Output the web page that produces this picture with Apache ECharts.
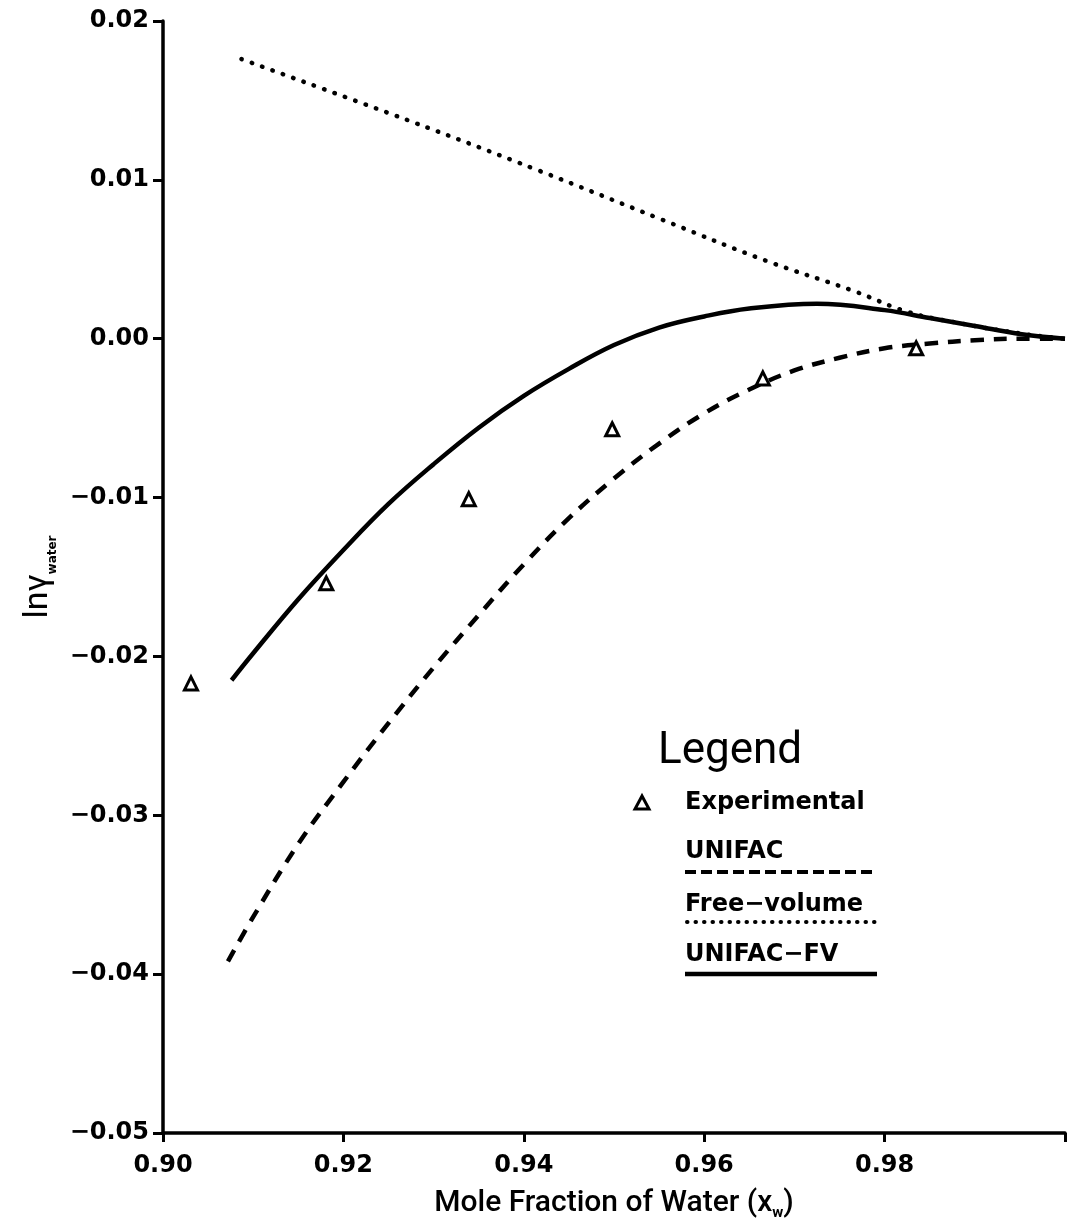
<!DOCTYPE html>
<html>
<head>
<meta charset="utf-8">
<title>ln gamma water</title>
<script src="https://cdn.jsdelivr.net/npm/echarts@6/dist/echarts.min.js"></script>
<style>
    html, body { margin: 0; padding: 0; background: #fff; }
    #chart { width: 1068px; height: 1226px; }
</style>
</head>
<body>
<div id="chart"></div>
<script>
    // values
    const expX = [0.9031, 0.9181, 0.9339, 0.9498, 0.9665, 0.9835];
    const expY = [-0.0217, -0.0154, -0.0101, -0.0057, -0.0025, -0.0006];

    const unifacX = [0.9072, 0.910, 0.915, 0.920, 0.925, 0.930, 0.935, 0.940, 0.945, 0.950, 0.955, 0.960, 0.965, 0.970, 0.975, 0.980, 0.985, 0.990, 0.995, 1.0];
    const unifacY = [-0.0392, -0.0364, -0.0318, -0.0279, -0.0242, -0.0207, -0.0174, -0.0142, -0.0113, -0.0088, -0.0066, -0.0047, -0.0032, -0.0020, -0.0012, -0.0006, -0.0003, -0.0001, 0.0, 0.0];

    const freeVolX = [0.9087, 0.9274, 0.9416, 0.9553, 0.9669, 0.9766, 0.9825, 0.9881, 0.9954, 1.0];
    const freeVolY = [0.0176, 0.0137, 0.0106, 0.0075, 0.0049, 0.0030, 0.0017, 0.0010, 0.0003, 0.0];

    const fvX = [0.9076, 0.910, 0.915, 0.920, 0.925, 0.930, 0.935, 0.940, 0.945, 0.950, 0.955, 0.960, 0.965, 0.9725, 0.980, 0.985, 0.990, 0.995, 1.0];
    const fvY = [-0.0215, -0.0198, -0.0164, -0.0133, -0.0104, -0.0079, -0.0056, -0.0036, -0.0019, -0.0004, 0.0007, 0.0014, 0.0019, 0.0022, 0.0018, 0.0013, 0.0008, 0.0003, 0.0];

    const legendNames = ['Experimental', 'UNIFAC', 'Free\u2212volume', 'UNIFAC\u2212FV'];

    function pairs(xs, ys) {
        return xs.map((x, i) => [x, ys[i]]);
    }

    const boldFont = 'DejaVu Sans';
    let myChart = echarts.init(document.getElementById('chart'));

    let option = {
        backgroundColor: '#fff',
        animation: false,
        grid: {
            left: 163,
            right: -3,
            top: 21,
            bottom: 93
        },
        xAxis: {
            type: 'value',
            min: 0.9,
            max: 1.0,
            interval: 0.02,
            splitLine: {show: false},
            axisLine: {onZero: false, lineStyle: {color: '#000', width: 3.5}},
            axisTick: {length: 9, lineStyle: {color: '#000', width: 3}},
            axisLabel: {
                color: '#000',
                fontFamily: boldFont,
                fontWeight: 'bold',
                fontSize: 24,
                margin: 21,
                formatter: (v) => v > 0.99 ? '' : v.toFixed(2)
            },
            name: 'Mole Fraction of Water (x{s|w})',
            nameLocation: 'middle',
            nameGap: 52,
            nameTextStyle: {
                color: '#000',
                fontFamily: 'Roboto',
                fontWeight: 500,
                fontSize: 30,
                lineHeight: 36,
                rich: {
                    s: {fontFamily: 'Roboto', fontWeight: 'bold', fontSize: 15, lineHeight: 36, verticalAlign: 'bottom', color: '#000'}
                }
            }
        },
        yAxis: {
            type: 'value',
            min: -0.05,
            max: 0.02,
            interval: 0.01,
            splitLine: {show: false},
            axisLine: {onZero: false, lineStyle: {color: '#000', width: 3.5}},
            axisTick: {length: 10, lineStyle: {color: '#000', width: 3}},
            axisLabel: {
                color: '#000',
                fontFamily: boldFont,
                fontWeight: 'bold',
                fontSize: 24,
                margin: 14,
                formatter: (v) => (v < 0 ? '\u2212' : '') + Math.abs(v).toFixed(2)
            },
            name: '{m|ln\u03b3}{s|water}',
            nameLocation: 'middle',
            nameRotate: 90,
            nameGap: 94,
            nameTextStyle: {
                color: '#000',
                rich: {
                    m: {fontFamily: 'Roboto', fontSize: 34, lineHeight: 40, color: '#000'},
                    s: {fontFamily: boldFont, fontWeight: 'bold', fontSize: 12, lineHeight: 40, verticalAlign: 'bottom', color: '#000'}
                }
            }
        },
        series: [
            {
                name: legendNames[0],
                type: 'scatter',
                symbol: 'triangle',
                symbolSize: 13,
                itemStyle: {color: '#fff', borderColor: '#000', borderWidth: 3, opacity: 1},
                z: 5,
                data: pairs(expX, expY)
            },
            {
                name: legendNames[1],
                type: 'line',
                smooth: 0.4,
                showSymbol: false,
                lineStyle: {color: '#000', width: 4.5, type: [13, 10]},
                data: pairs(unifacX, unifacY)
            },
            {
                name: legendNames[2],
                type: 'line',
                smooth: 0.4,
                showSymbol: false,
                lineStyle: {color: '#000', width: 4.5, type: [0.5, 10.5], cap: 'round'},
                data: pairs(freeVolX, freeVolY)
            },
            {
                name: legendNames[3],
                type: 'line',
                smooth: 0.4,
                showSymbol: false,
                lineStyle: {color: '#000', width: 4.5},
                data: pairs(fvX, fvY)
            }
        ],
        // hand drawn legend box of the figure
        graphic: [
            {type: 'text', x: 658, y: 752, style: {text: 'Legend', font: '44px Roboto', fill: '#000', verticalAlign: 'middle'}},
            {type: 'polygon', shape: {points: [[642, 796], [635, 809], [649, 809]]}, style: {fill: '#fff', stroke: '#000', lineWidth: 3}},
            {type: 'text', x: 685, y: 803, style: {text: legendNames[0], font: 'bold 24px ' + boldFont, fill: '#000', verticalAlign: 'middle'}},
            {type: 'text', x: 685, y: 852, style: {text: legendNames[1], font: 'bold 24px ' + boldFont, fill: '#000', verticalAlign: 'middle'}},
            {type: 'line', shape: {x1: 685, y1: 872, x2: 877, y2: 872}, style: {stroke: '#000', lineWidth: 4, lineDash: [11, 5]}},
            {type: 'text', x: 685, y: 905, style: {text: legendNames[2], font: 'bold 24px ' + boldFont, fill: '#000', verticalAlign: 'middle'}},
            {type: 'line', shape: {x1: 687, y1: 922, x2: 877, y2: 922}, style: {stroke: '#000', lineWidth: 4, lineDash: [0.5, 8], lineCap: 'round'}},
            {type: 'text', x: 685, y: 955, style: {text: legendNames[3], font: 'bold 24px ' + boldFont, fill: '#000', verticalAlign: 'middle'}},
            {type: 'line', shape: {x1: 685, y1: 974, x2: 877, y2: 974}, style: {stroke: '#000', lineWidth: 4.5}}
        ]
    };

    myChart.setOption(option);
</script>
</body>
</html>
